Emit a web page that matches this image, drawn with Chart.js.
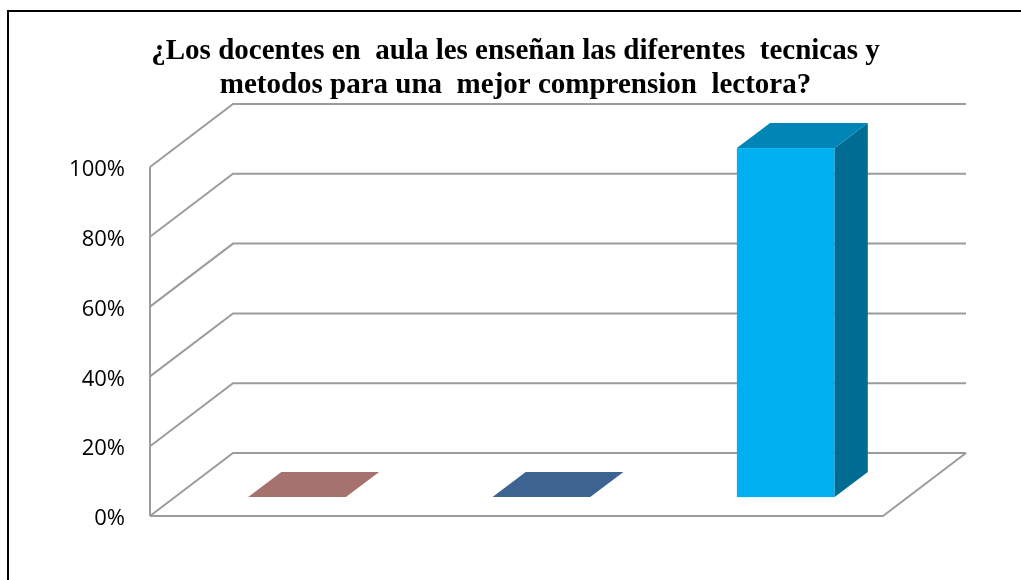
<!DOCTYPE html>
<html>
<head>
<meta charset="utf-8">
<script src="https://cdn.jsdelivr.net/npm/chart.js@4"></script>
<style>
  html, body { margin: 0; padding: 0; background: #fff; }
  #wrap { width: 1021px; height: 580px; }
</style>
</head>
<body>
<div id="wrap"><canvas id="myChart" width="1021" height="580"></canvas></div>
<script>
// --- Données ---
const categorias = ['Opción 1', 'Opción 2', 'Opción 3'];
const valores    = [0, 0, 100];
const ticksY     = [0, 20, 40, 60, 80, 100];
const titulo     = [
    '¿Los docentes en  aula les enseñan las diferentes  tecnicas y',
    'metodos para una  mejor comprension  lectora?'
];

// --- Styles ---
const coloresFrente = ['#b87c77', '#44699a', '#00b0f0'];
const coloresTecho  = ['#a5726e', '#3d6390', '#0086b6'];
const coloresLado   = ['#8a5c58', '#2f4f75', '#006c92'];
const PROF_X = 83, PROF_Y = 63;     // décalage de la paroi du fond
const BARRE_F0 = 0.3, BARRE_F1 = 0.7; // profondeur des barres
const GRIS = '#9c9c9c';

// --- Plugin 3D : murs, grille et barres ---
const decor3d = {
    id: 'decor3d',
    beforeDatasetsDraw(chart) {
        const { ctx, chartArea, scales } = chart;
        const y = scales.y;
        const left = chartArea.left, right = chartArea.right;
        const y0 = y.getPixelForValue(0);
        ctx.save();
        ctx.strokeStyle = GRIS;
        ctx.lineWidth = 2;
        ctx.beginPath();
        ticksY.forEach(v => {
            const py = y.getPixelForValue(v);
            // mur gauche (diagonale)
            ctx.moveTo(left, py);
            ctx.lineTo(left + PROF_X, py - PROF_Y);
            // mur du fond
            ctx.lineTo(right + PROF_X, py - PROF_Y);
        });
        // arête verticale avant gauche
        ctx.moveTo(left, y0);
        ctx.lineTo(left, y.getPixelForValue(ticksY[ticksY.length - 1]));
        // sol
        ctx.moveTo(left, y0);
        ctx.lineTo(right, y0);
        ctx.lineTo(right + PROF_X, y0 - PROF_Y);
        ctx.stroke();
        ctx.restore();
    },
    afterDatasetsDraw(chart) {
        const { ctx } = chart;
        const meta = chart.getDatasetMeta(0);
        const dx0 = BARRE_F0 * PROF_X, dy0 = BARRE_F0 * PROF_Y;
        const ddx = (BARRE_F1 - BARRE_F0) * PROF_X, ddy = (BARRE_F1 - BARRE_F0) * PROF_Y;
        ctx.save();
        meta.data.forEach((el, i) => {
            const w = el.width;
            const x0 = el.x - w / 2 + dx0;
            const x1 = x0 + w;
            const top = el.y - dy0;
            const bot = el.base - dy0;
            // face avant
            if (bot - top > 0.5) {
                ctx.fillStyle = coloresFrente[i];
                ctx.fillRect(x0, top, w, bot - top);
                // côté
                ctx.fillStyle = coloresLado[i];
                ctx.beginPath();
                ctx.moveTo(x1, top);
                ctx.lineTo(x1 + ddx, top - ddy);
                ctx.lineTo(x1 + ddx, bot - ddy);
                ctx.lineTo(x1, bot);
                ctx.closePath();
                ctx.fill();
            }
            // dessus
            ctx.fillStyle = coloresTecho[i];
            ctx.beginPath();
            ctx.moveTo(x0, top);
            ctx.lineTo(x1, top);
            ctx.lineTo(x1 + ddx, top - ddy);
            ctx.lineTo(x0 + ddx, top - ddy);
            ctx.closePath();
            ctx.fill();
        });
        ctx.restore();
    },
    afterDraw(chart) {
        const { ctx } = chart;
        ctx.save();
        ctx.strokeStyle = '#000';
        ctx.lineWidth = 2;
        ctx.beginPath();
        ctx.moveTo(8, 700);
        ctx.lineTo(8, 11);
        ctx.lineTo(1100, 11);
        ctx.stroke();
        ctx.restore();
    }
};

// --- Graphique ---
const ctx = document.getElementById('myChart').getContext('2d');
new Chart(ctx, {
    type: 'bar',
    data: {
        labels: categorias,
        datasets: [{
            data: valores,
            backgroundColor: 'rgba(0,0,0,0)',
            barPercentage: 0.4,
            categoryPercentage: 1
        }]
    },
    options: {
        responsive: false,
        animation: false,
        layout: { padding: { left: 20, right: 10, top: 0, bottom: 64 } },
        plugins: {
            legend: { display: false },
            tooltip: { enabled: false },
            title: {
                display: true,
                text: titulo,
                color: '#000',
                font: { family: '"Liberation Serif", "Times New Roman", serif', size: 29, weight: 'bold', lineHeight: 34 / 29 },
                padding: { top: 35, bottom: 64 }
            }
        },
        scales: {
            x: { display: false },
            y: {
                min: 0,
                max: 100,
                afterBuildTicks: s => { s.ticks = ticksY.map(v => ({ value: v })); },
                afterFit: s => { s.width = 130; },
                grid: { display: false, drawTicks: false },
                border: { display: false },
                ticks: {
                    callback: v => v + '%',
                    color: '#000',
                    padding: 25,
                    labelOffset: 3,
                    font: { family: '"Open Sans", sans-serif', size: 22 }
                }
            },
            yDroite: {
                position: 'right',
                afterFit: s => { s.width = 128; },
                grid: { display: false, drawTicks: false },
                border: { display: false },
                ticks: { display: false }
            }
        }
    },
    plugins: [decor3d]
});
</script>
</body>
</html>
